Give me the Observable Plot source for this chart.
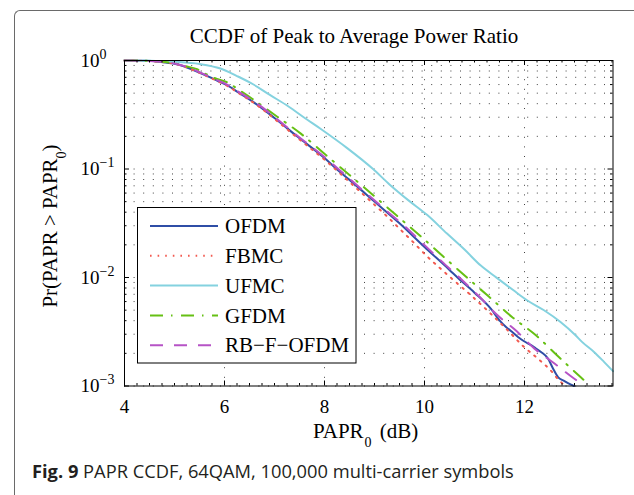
<!DOCTYPE html>
<html><head><meta charset="utf-8">
<script src="https://cdn.jsdelivr.net/npm/d3@7"></script>
<script src="https://cdn.jsdelivr.net/npm/@observablehq/plot@0.6"></script>
<style>
body{margin:0;background:#fff;}
#wrap{position:relative;width:634px;height:495px;overflow:hidden;background:#fff;}
#frame{position:absolute;left:14px;top:9.5px;width:700px;height:600px;border-left:1.5px solid #6a6a6a;border-top:1.5px solid #6a6a6a;border-top-left-radius:6px;}
#chart{position:absolute;left:0;top:0;}
#caption{position:absolute;left:32px;top:458px;font-family:"Open Sans";font-size:18.3px;color:#231f20;white-space:nowrap;}
#caption b{font-weight:700;}
</style></head><body>
<div id="wrap"><div id="frame"></div><div id="chart"></div>
<div id="caption"><b>Fig. 9</b> PAPR CCDF, 64QAM, 100,000 multi-carrier symbols</div></div>
<script>
// ---- data ----
const seriesNames = ["OFDM", "FBMC", "UFMC", "GFDM", "RB\u2212F\u2212OFDM"];
const seriesColors = ["#2f4ea6", "#f25a50", "#84d2df", "#66c014", "#b653c6"];
const seriesDash = [null, "1.6 6", null, "13 8 1.5 8.5", "13 11"];

const ofdmX = [4.0, 4.4, 4.7, 5.0, 5.2, 5.4, 5.6, 5.85, 6.05, 6.3, 6.6, 7.0, 7.45, 8.0, 8.24, 8.5, 9.0, 9.5, 10.0, 10.5, 10.66, 11.0, 11.33, 11.5, 11.63, 11.75, 11.87, 12.0, 12.13, 12.23, 12.33, 12.47, 12.57, 12.67, 12.8, 12.93, 12.99];
const ofdmP = [1.0, 0.993, 0.973, 0.933, 0.881, 0.809, 0.738, 0.653, 0.592, 0.5, 0.407, 0.295, 0.2, 0.126, 0.1, 0.0794, 0.0501, 0.0316, 0.0191, 0.01175, 0.01, 0.00724, 0.00513, 0.00403, 0.0035, 0.00316, 0.00283, 0.00257, 0.00238, 0.00221, 0.00206, 0.00179, 0.00145, 0.00121, 0.00111, 0.00103, 0.001];

const fbmcX = [4.0, 4.4, 4.7, 5.0, 5.2, 5.4, 5.6, 5.85, 6.05, 6.3, 6.6, 7.0, 7.45, 8.0, 8.5, 9.0, 9.25, 9.52, 9.79, 10.05, 10.32, 10.62, 10.89, 11.32, 11.65, 11.99, 12.29, 12.55, 12.69, 12.82];
const fbmcP = [1.0, 0.993, 0.973, 0.933, 0.879, 0.805, 0.735, 0.649, 0.586, 0.495, 0.403, 0.29, 0.195, 0.122, 0.0759, 0.0468, 0.0366, 0.0276, 0.0208, 0.01567, 0.01208, 0.00912, 0.00711, 0.00466, 0.00331, 0.00229, 0.00175, 0.00135, 0.00113, 0.001];

const ufmcX = [4.0, 4.5, 5.0, 5.5, 5.92, 6.25, 6.58, 6.9, 7.28, 7.62, 7.92, 8.46, 8.96, 9.3, 9.68, 10.05, 10.45, 10.8, 11.12, 11.44, 11.78, 12.05, 12.39, 12.72, 13.02, 13.15, 13.39, 13.59, 13.77];
const ufmcP = [1.0, 0.995, 0.973, 0.929, 0.843, 0.719, 0.601, 0.484, 0.377, 0.292, 0.235, 0.155, 0.101, 0.0721, 0.0514, 0.0378, 0.0254, 0.0181, 0.01294, 0.00998, 0.00762, 0.00617, 0.00499, 0.00389, 0.00294, 0.00255, 0.00206, 0.00167, 0.00137];

const gfdmX = [4.0, 4.4, 4.7, 5.0, 5.2, 5.45, 5.6, 5.85, 6.04, 6.3, 6.56, 7.0, 7.52, 8.04, 8.5, 9.0, 9.45, 9.9, 10.37, 10.82, 11.28, 11.75, 12.24, 12.67, 13.12, 13.21];
const gfdmP = [1.0, 0.995, 0.977, 0.942, 0.891, 0.832, 0.762, 0.676, 0.634, 0.531, 0.442, 0.316, 0.213, 0.133, 0.0881, 0.056, 0.037, 0.0245, 0.01567, 0.01026, 0.00671, 0.00433, 0.0029, 0.00188, 0.00121, 0.00111];

const rbfX = [4.0, 4.4, 4.7, 5.0, 5.2, 5.4, 5.6, 5.85, 6.05, 6.3, 6.6, 7.0, 7.45, 8.0, 8.5, 9.17, 9.62, 9.99, 10.34, 10.72, 11.1, 11.45, 11.84, 12.2, 12.6, 12.97, 13.1];
const rbfP = [1.0, 0.993, 0.975, 0.938, 0.887, 0.817, 0.745, 0.661, 0.6, 0.508, 0.417, 0.302, 0.204, 0.129, 0.0813, 0.0439, 0.0292, 0.0201, 0.01416, 0.00977, 0.00664, 0.00453, 0.00321, 0.00221, 0.00161, 0.00119, 0.00108];

const xTicks = [4, 6, 8, 10, 12];
const xMinorStep = 0.25;
const yTicks = [1e-3, 1e-2, 1e-1, 1];
const xDomain = [4, 13.77];
const yDomain = [1e-3, 1];

// ---- layout ----
const W = 634, H = 495, mt = 60, mb = 109.5, ml = 124, mr = 21.5;
const innerH = H - mt - mb, innerW = W - ml - mr;
const serif = "Liberation Serif";

const seriesX = [ofdmX, fbmcX, ufmcX, gfdmX, rbfX];
const seriesP = [ofdmP, fbmcP, ufmcP, gfdmP, rbfP];
const series = seriesNames.map((name, i) => seriesX[i].map((x, j) => ({name, x, p: seriesP[i][j]})));

const yGrid = yTicks.slice(0, -1).flatMap(d => d3.range(1, 10).map(k => d * k)).concat([1]);
const yMinor = yGrid.filter(v => !yTicks.some(t => Math.abs(t - v) < 1e-12));
const xMinor = d3.range(xDomain[0], xDomain[1] + 1e-9, xMinorStep).filter(v => !xTicks.includes(v));

const gridStyle = {stroke: "#000", strokeWidth: 1, strokeDasharray: "1 8.6", strokeOpacity: 0.75};

const marks = [
  Plot.ruleY(yGrid, {y: d => d, ...gridStyle}),
  Plot.ruleX(xTicks, {x: d => d, ...gridStyle}),
  ...series.map((data, i) => Plot.line(data, {
    x: "x", y: "p", stroke: seriesColors[i], strokeWidth: 2,
    strokeDasharray: seriesDash[i] || undefined, curve: "monotone-x"
  })),
  Plot.frame({stroke: "#000", strokeWidth: 1}),
  Plot.tickX(xTicks, {x: d => d, insetTop: innerH - 5, stroke: "#000"}),
  Plot.tickX(xTicks, {x: d => d, insetBottom: innerH - 5, stroke: "#000"}),
  Plot.tickX(xMinor, {x: d => d, insetTop: innerH - 2.5, stroke: "#000"}),
  Plot.tickX(xMinor, {x: d => d, insetBottom: innerH - 2.5, stroke: "#000"}),
  Plot.tickY(yTicks, {y: d => d, insetRight: innerW - 5, stroke: "#000"}),
  Plot.tickY(yTicks, {y: d => d, insetLeft: innerW - 5, stroke: "#000"}),
  Plot.tickY(yMinor, {y: d => d, insetRight: innerW - 2.5, stroke: "#000"}),
  Plot.tickY(yMinor, {y: d => d, insetLeft: innerW - 2.5, stroke: "#000"}),
  Plot.axisX(xTicks, {tickSize: 0, tickPadding: 13, fontSize: 19, fontFamily: serif, label: null, fill: "#000"}),
  Plot.axisY(yTicks, {tickSize: 0, tickPadding: 44, textAnchor: "start", fontSize: 19, fontFamily: serif, label: null, fill: "#000",
    tickFormat: d => { const e = Math.round(Math.log10(d)); return e < 0 ? "\u2212" + (-e) : String(e); }})
];

const svg = Plot.plot({
  width: W, height: H,
  marginTop: mt, marginBottom: mb, marginLeft: ml, marginRight: mr,
  x: {domain: xDomain},
  y: {type: "log", domain: yDomain},
  style: {fontFamily: serif, fontSize: "19px", background: "transparent", color: "#000", overflow: "visible"},
  marks
});
document.getElementById("chart").appendChild(svg);

const s = d3.select(svg);
s.selectAll('g[aria-label="y-axis tick label"] text').each(function () {
  const e = this.textContent;
  const t = d3.select(this);
  t.text(null);
  t.append("tspan").text("10");
  t.append("tspan").attr("dy", "-0.55em").attr("font-size", "14px").text(e);
});

// title
s.append("text").attr("x", 354).attr("y", 43).attr("text-anchor", "middle")
  .attr("font-family", serif).attr("font-size", 21).attr("fill", "#000")
  .text("CCDF of Peak to Average Power Ratio");

// x label
const xl = s.append("text").attr("x", 313).attr("y", 437.5).attr("text-anchor", "start")
  .attr("font-family", serif).attr("font-size", 21).attr("fill", "#000");
xl.append("tspan").text("PAPR");
xl.append("tspan").attr("dy", 9).attr("dx", 1).attr("font-size", 14).text("0");
xl.append("tspan").attr("dy", -9).attr("dx", 3).text(" (dB)");

// y label
const yl = s.append("text").attr("transform", "translate(57,226) rotate(-90)").attr("text-anchor", "middle")
  .attr("font-family", serif).attr("font-size", 21).attr("fill", "#000");
yl.append("tspan").text("Pr(PAPR > PAPR");
yl.append("tspan").attr("dy", 9).attr("font-size", 14).text("0");
yl.append("tspan").attr("dy", -9).text(")");

// legend
const lg = s.append("g").attr("text-anchor", "start");
lg.append("rect").attr("x", 137.5).attr("y", 207.5).attr("width", 218.5).attr("height", 155.5)
  .attr("fill", "#fff").attr("stroke", "#000").attr("stroke-width", 1);
seriesNames.forEach((n, i) => {
  const y = 226 + i * 29.8;
  lg.append("line").attr("x1", 150).attr("x2", 218).attr("y1", y).attr("y2", y)
    .attr("stroke", seriesColors[i]).attr("stroke-width", 2)
    .attr("stroke-dasharray", seriesDash[i]);
  lg.append("text").attr("x", 225).attr("y", y).attr("dy", "0.34em").attr("text-anchor", "start")
    .attr("font-family", serif).attr("font-size", 21).attr("fill", "#000").text(n);
});
</script>
</body></html>
